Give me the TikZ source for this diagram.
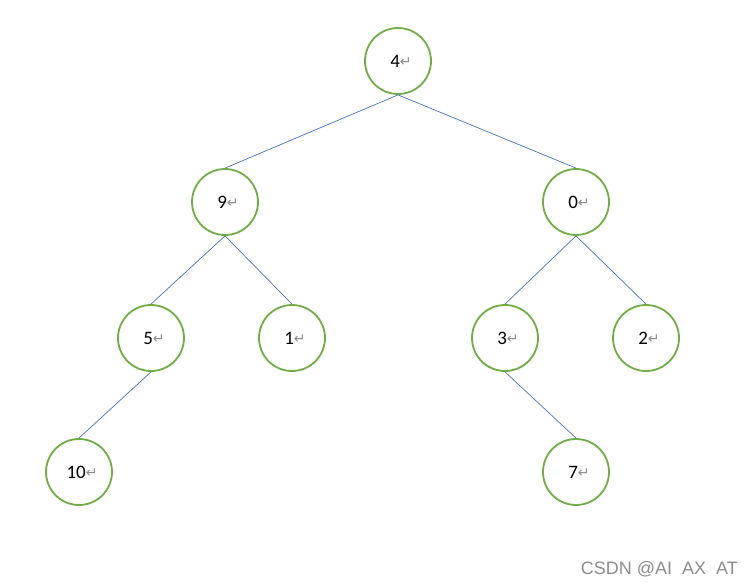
\documentclass[tikz,border=0pt]{standalone}
\usepackage{fontspec}
\setmainfont{Carlito}
\newfontfamily\symfont{DejaVu Sans}
\newfontfamily\wmfont{Liberation Sans}
\definecolor{ngreen}{HTML}{70AD47}
\definecolor{eblue}{HTML}{4472C4}
\definecolor{rgray}{HTML}{8C8C8C}
\newcommand{\rt}{{\symfont\fontsize{14}{14}\selectfont\color{rgray}\raisebox{1pt}{↵}}}
\begin{document}
\begin{tikzpicture}[x=1pt,y=-1pt,
  tnode/.style={circle,draw=ngreen,line width=1.8pt,minimum size=66pt,inner sep=0pt,font=\fontsize{19}{19}\selectfont},
  edge/.style={draw=eblue,line width=0.7pt}]
\useasboundingbox (0,0) rectangle (753,586);
\node[tnode] (n4) at (398,61) {\kern6pt 4\rt};
\node[tnode] (n9) at (225,202) {\kern6pt 9\rt};
\node[tnode] (n0) at (576,202) {\kern6pt 0\rt};
\node[tnode] (n5) at (151,338) {\kern6pt 5\rt};
\node[tnode] (n1) at (292,338) {\kern6pt 1\rt};
\node[tnode] (n3) at (505,338) {\kern6pt 3\rt};
\node[tnode] (n2) at (646,338) {\kern6pt 2\rt};
\node[tnode] (n10) at (79,472) {\kern6pt 10\rt};
\node[tnode] (n7) at (576,472) {\kern6pt 7\rt};
\draw[edge] (n4.south) -- (n9.north);
\draw[edge] (n4.south) -- (n0.north);
\draw[edge] (n9.south) -- (n5.north);
\draw[edge] (n9.south) -- (n1.north);
\draw[edge] (n0.south) -- (n3.north);
\draw[edge] (n0.south) -- (n2.north);
\draw[edge] (n5.south) -- (n10.north);
\draw[edge] (n3.south) -- (n7.north);
\node[anchor=east,text=rgray,font=\wmfont\fontsize{18}{18}\selectfont,inner sep=0pt] (wm) at (738,569) {CSDN @AI\ \ AX\ \ AT};
\end{tikzpicture}
\end{document}
